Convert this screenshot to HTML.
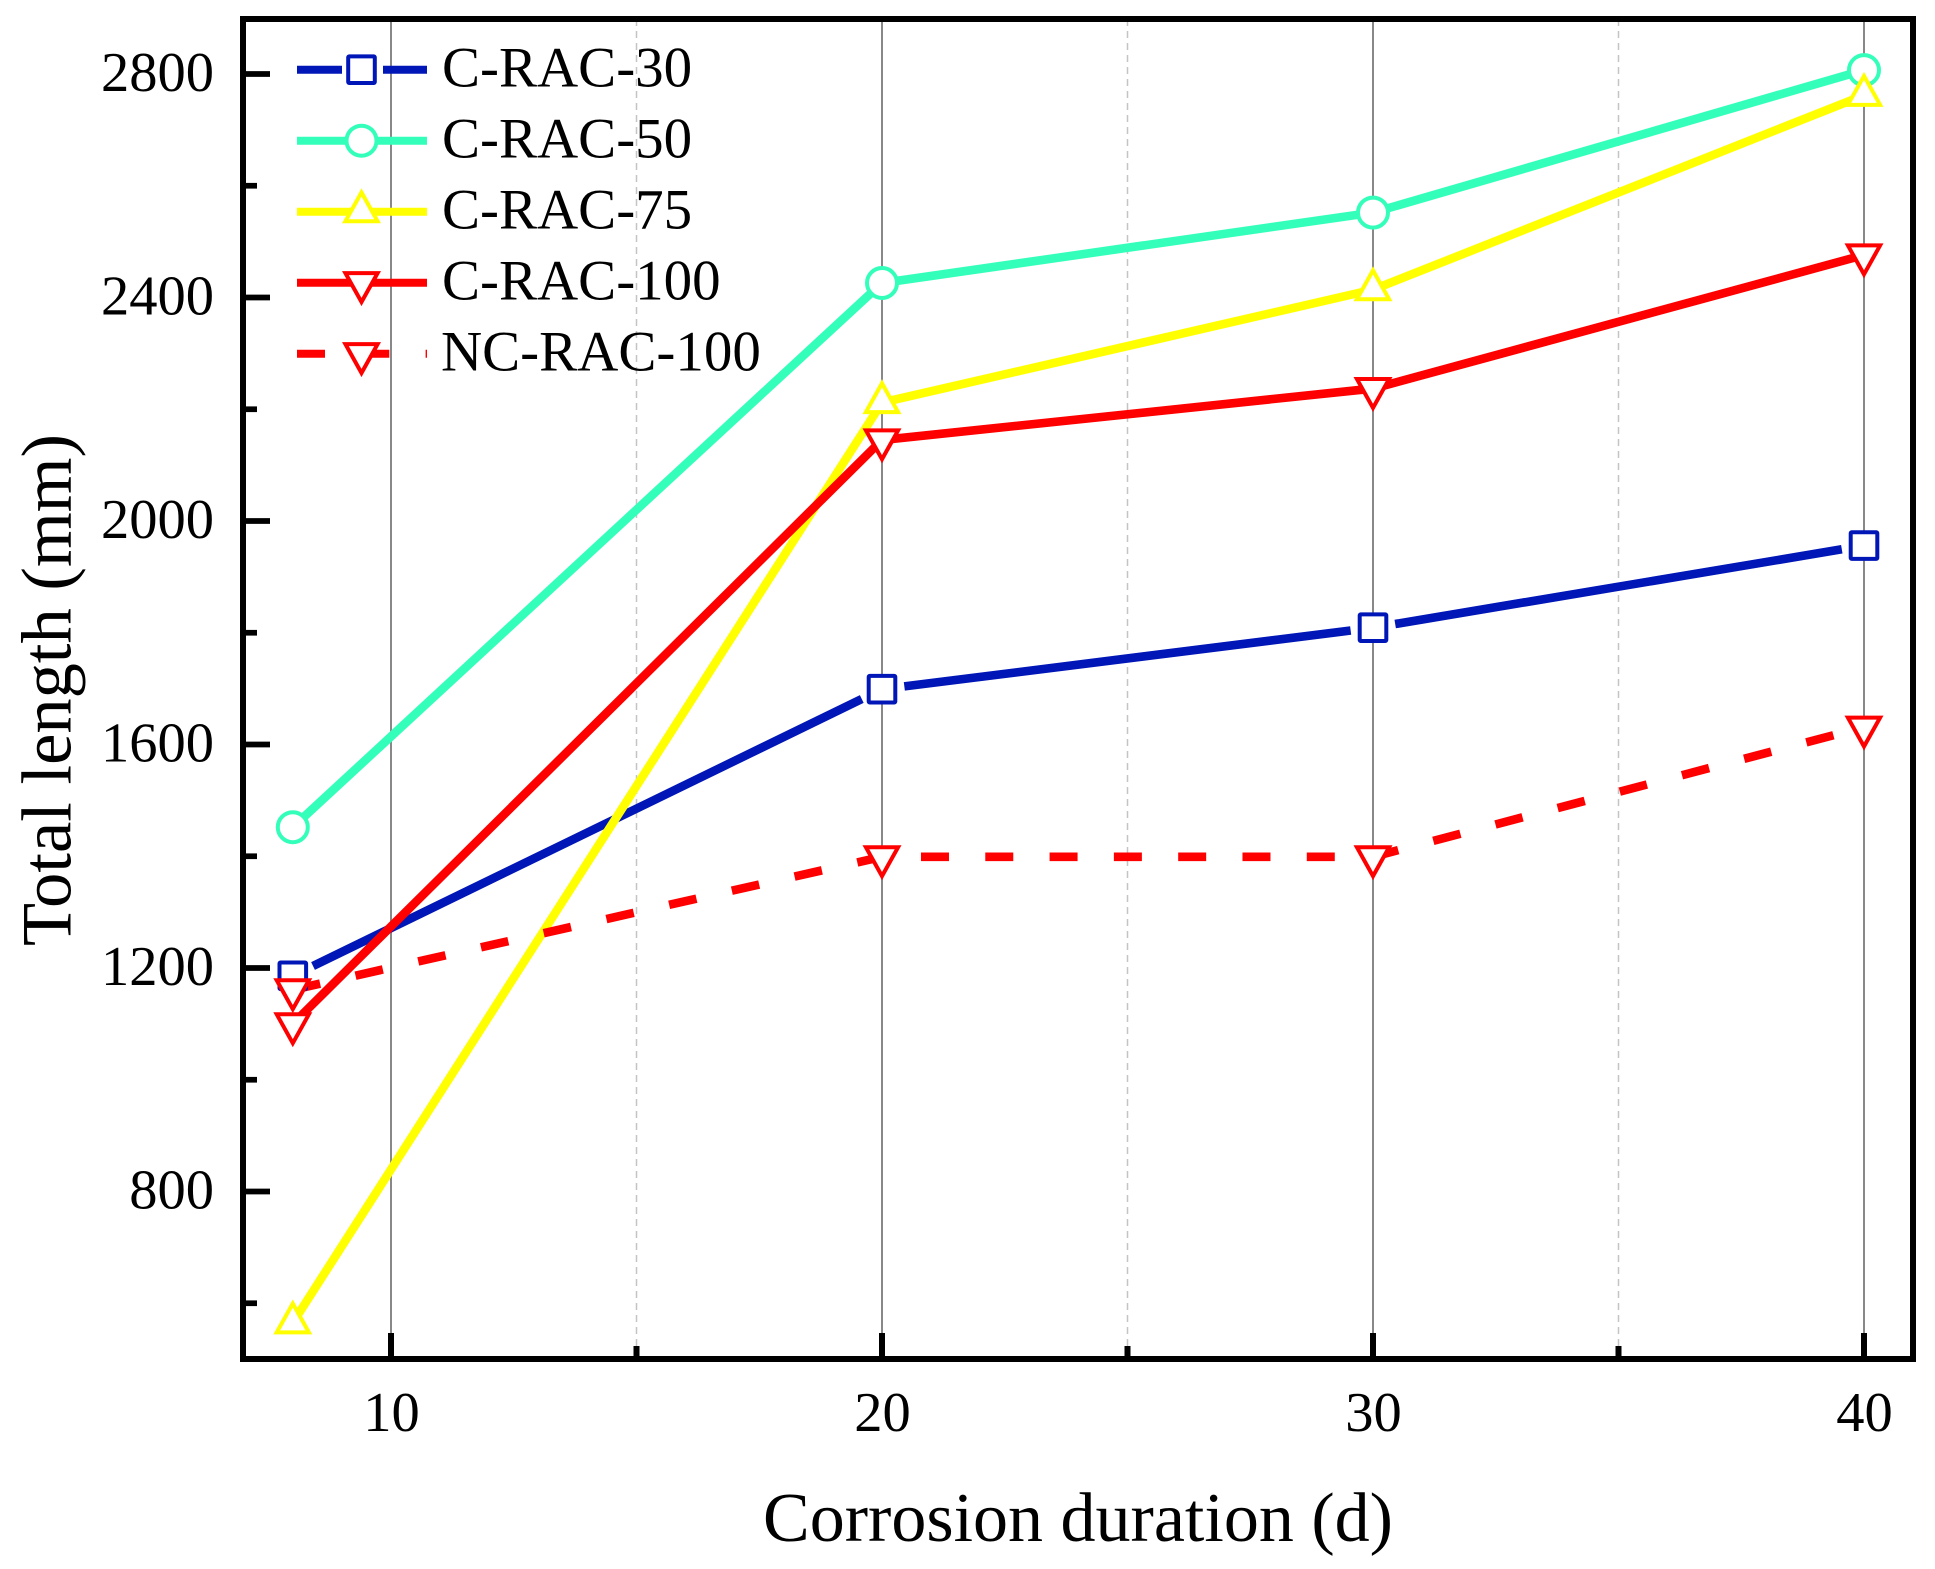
<!DOCTYPE html>
<html lang="en">
<head>
<meta charset="utf-8">
<title>Total length vs corrosion duration</title>
<style>
  html, body { margin: 0; padding: 0; background: #fff; }
  body { width: 1935px; height: 1569px; overflow: hidden; }
  svg { display: block; }
  text { font-family: "Liberation Serif", serif; fill: #000; }
</style>
</head>
<body>
<svg id="chart" xmlns="http://www.w3.org/2000/svg" width="1935" height="1569" viewBox="0 0 1935 1569">
  <rect x="0" y="0" width="1935" height="1569" fill="#fff"/>
  <g id="grid"></g>
  <g id="series"></g>
  <g id="legend"></g>
  <g id="axes"></g>
  <text x="1078" y="1541" font-size="70" text-anchor="middle">Corrosion duration (d)</text>
  <text transform="translate(70.5 690) rotate(-90)" font-size="70.5" text-anchor="middle">Total length (mm)</text>
</svg>
<script>
// ---- chart data ----
const durations = [8, 20, 30, 40];
const cRac30 = [1186, 1699, 1809, 1956];
const cRac50 = [1452, 2426, 2552, 2807];
const cRac75 = [565, 2212, 2414, 2762];
const cRac100 = [1100, 2145, 2237, 2476];
const ncRac100 = [1161, 1399, 1399, 1631];
const seriesNames = ['C-RAC-30', 'C-RAC-50', 'C-RAC-75', 'C-RAC-100', 'NC-RAC-100'];
const xMajorTicks = [10, 20, 30, 40];
const xMinorTicks = [15, 25, 35];
const yMajorTicks = [800, 1200, 1600, 2000, 2400, 2800];
const yMinorTicks = [600, 1000, 1400, 1800, 2200, 2600];

// ---- axis functions ----
function xScale(v) { return 391 + (v - 10) * 49.1; }
function yScale(v) { return 74 + (2800 - v) * 0.55875; }

const SVGNS = 'http://www.w3.org/2000/svg';
const seriesValues = [cRac30, cRac50, cRac75, cRac100, ncRac100];
const seriesColors = ['#0016b6', '#33ffbb', '#ffff00', '#ff0000', '#ff0000'];
const seriesMarkers = ['square', 'circle', 'up', 'down', 'down'];
const seriesKeys = ['c-rac-30', 'c-rac-50', 'c-rac-75', 'c-rac-100', 'nc-rac-100'];
const FRAME = { left: 243, right: 1913, top: 19, bottom: 1359 };

function make(tag, parent) {
  const node = document.createElementNS(SVGNS, tag);
  parent.appendChild(node);
  return node;
}
function setLine(node, x1, y1, x2, y2, color, width) {
  node.setAttribute('x1', x1);
  node.setAttribute('y1', y1);
  node.setAttribute('x2', x2);
  node.setAttribute('y2', y2);
  node.setAttribute('stroke', color);
  node.setAttribute('stroke-width', width);
}
function drawMarker(parent, kind, cx, cy, color, name) {
  let m;
  if (kind === 'circle') {
    m = make('circle', parent);
    m.setAttribute('cx', cx);
    m.setAttribute('cy', cy);
    m.setAttribute('r', 15);
  } else if (kind === 'square') {
    m = make('rect', parent);
    m.setAttribute('x', cx - 13.3);
    m.setAttribute('y', cy - 13.3);
    m.setAttribute('width', 26.6);
    m.setAttribute('height', 26.6);
    m.setAttribute('rx', 1);
  } else {
    const s = kind === 'up' ? 1 : -1;
    m = make('polygon', parent);
    m.setAttribute('points',
      cx + ',' + (cy - s * 19.3) + ' ' +
      (cx + 16.1) + ',' + (cy + s * 9.6) + ' ' +
      (cx - 16.1) + ',' + (cy + s * 9.6));
  }
  m.setAttribute('fill', '#fff');
  m.setAttribute('stroke', color);
  m.setAttribute('stroke-width', 4);
  
  
}

// ---- gridlines ----
const gridG = document.getElementById('grid');
xMajorTicks.forEach(function (t) {
  const g = make('line', gridG);
  setLine(g, xScale(t), FRAME.top, xScale(t), FRAME.bottom, '#888888', 2);
  
  
});
xMinorTicks.forEach(function (t) {
  const g = make('line', gridG);
  setLine(g, xScale(t), FRAME.top, xScale(t), FRAME.bottom, '#c4c4c4', 1.5);
  g.setAttribute('stroke-dasharray', '7 5');
  
  
});

// ---- series ----
const seriesG = document.getElementById('series');
seriesValues.forEach(function (vals, i) {
  const color = seriesColors[i];
  const key = seriesKeys[i];
  const pts = vals.map(function (v, j) { return [xScale(durations[j]), yScale(v)]; });
  if (seriesMarkers[i] === 'square') {
    // this series leaves a gap around each marker
    const gap = 22.5;
    for (let j = 0; j < pts.length - 1; j++) {
      const a = pts[j], b = pts[j + 1];
      const dx = b[0] - a[0], dy = b[1] - a[1];
      const len = Math.sqrt(dx * dx + dy * dy);
      const ux = dx / len, uy = dy / len;
      const seg = make('line', seriesG);
      setLine(seg, a[0] + ux * gap, a[1] + uy * gap, b[0] - ux * gap, b[1] - uy * gap, color, 8.6);
      
      
    }
  } else {
    const pl = make('polyline', seriesG);
    pl.setAttribute('points', pts.map(function (p) { return p[0] + ',' + p[1]; }).join(' '));
    pl.setAttribute('fill', 'none');
    pl.setAttribute('stroke', color);
    pl.setAttribute('stroke-width', 8.6);
    pl.setAttribute('stroke-linejoin', 'miter');
    if (i === 4) { pl.setAttribute('stroke-dasharray', '28 36.3'); }
    
    
  }
});
seriesValues.forEach(function (vals, i) {
  vals.forEach(function (v, j) {
    drawMarker(seriesG, seriesMarkers[i], xScale(durations[j]), yScale(v), seriesColors[i], seriesKeys[i] + '-point-' + durations[j]);
  });
});

// ---- legend ----
const legendG = document.getElementById('legend');
const LEGEND_Y = 69.7;
const LEGEND_STEP = 71;
seriesNames.forEach(function (name, i) {
  const y = LEGEND_Y + LEGEND_STEP * i;
  const color = seriesColors[i];
  const key = seriesKeys[i];
  if (seriesMarkers[i] === 'square') {
    const l1 = make('line', legendG);
    setLine(l1, 297, y, 342, y, color, 8);
    
    
    const l2 = make('line', legendG);
    setLine(l2, 383, y, 427, y, color, 8);
    
    
  } else {
    const l = make('line', legendG);
    setLine(l, 297, y, 427, y, color, 8);
    if (i === 4) { l.setAttribute('stroke-dasharray', '28 36.3'); }
    
    
  }
  drawMarker(legendG, seriesMarkers[i], 361.5, y, color, 'legend-marker-' + key);
  const label = make('text', legendG);
  label.setAttribute('x', i === 4 ? 441 : 442);
  label.setAttribute('y', y + 17);
  label.setAttribute('font-size', 57);
  label.textContent = name;
  
  
});

// ---- axes ----
const axesG = document.getElementById('axes');
const frame = make('rect', axesG);
frame.setAttribute('x', FRAME.left);
frame.setAttribute('y', FRAME.top);
frame.setAttribute('width', FRAME.right - FRAME.left);
frame.setAttribute('height', FRAME.bottom - FRAME.top);
frame.setAttribute('fill', 'none');
frame.setAttribute('stroke', '#000');
frame.setAttribute('stroke-width', 6);



xMajorTicks.forEach(function (t) {
  const tk = make('line', axesG);
  setLine(tk, xScale(t), 1333, xScale(t), 1357, '#000', 6);
  
  
  const lb = make('text', axesG);
  lb.setAttribute('x', xScale(t) + 0.5);
  lb.setAttribute('y', 1431);
  lb.setAttribute('font-size', 56.5);
  lb.setAttribute('text-anchor', 'middle');
  lb.textContent = t;
  
  
});
xMinorTicks.forEach(function (t) {
  const tk = make('line', axesG);
  setLine(tk, xScale(t), 1346, xScale(t), 1357, '#000', 6);
  
  
});
yMajorTicks.forEach(function (t) {
  const tk = make('line', axesG);
  setLine(tk, 245, yScale(t), 270, yScale(t), '#000', 5.7);
  
  
  const lb = make('text', axesG);
  lb.setAttribute('x', 214);
  lb.setAttribute('y', yScale(t) + 17);
  lb.setAttribute('font-size', 56.5);
  lb.setAttribute('text-anchor', 'end');
  lb.textContent = t;
  
  
});
yMinorTicks.forEach(function (t) {
  const tk = make('line', axesG);
  setLine(tk, 245, yScale(t), 257, yScale(t), '#000', 5.7);
  
  
});
</script>
</body>
</html>
